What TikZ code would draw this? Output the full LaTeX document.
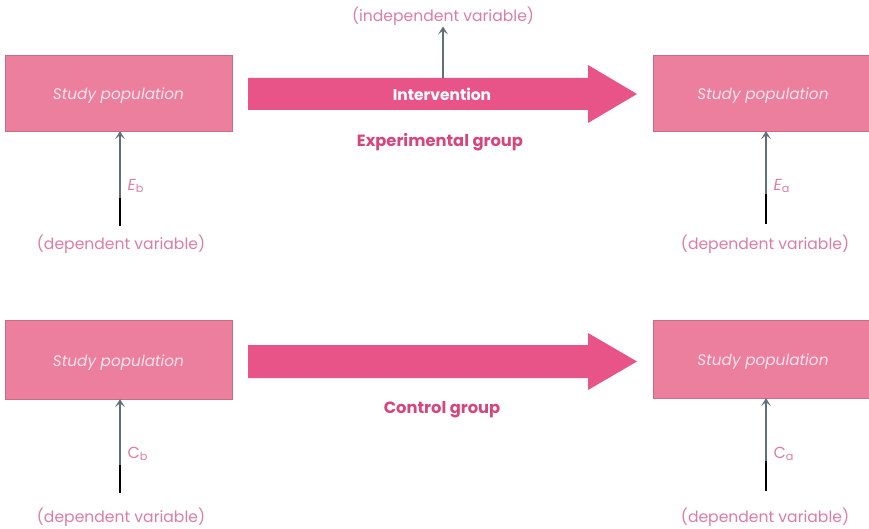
\documentclass[tikz,border=0pt]{standalone}
\usepackage{fontspec}
\setmainfont{Poppins}
\usetikzlibrary{arrows.meta}
\definecolor{boxfill}{RGB}{237,127,158}
\definecolor{arrfill}{RGB}{233,84,136}
\definecolor{boxtxt}{RGB}{252,228,236}
\definecolor{lblpink}{RGB}{220,125,165}
\definecolor{grptxt}{RGB}{214,70,125}
\definecolor{stem}{RGB}{95,112,122}
\tikzset{
  popbox/.style={fill=boxfill, draw=boxfill!85!black, line width=0.4pt, minimum width=227pt, minimum height=76pt, inner sep=0pt, text height=13pt, text depth=0pt, font=\fontsize{15.3}{17}\selectfont\itshape, text=boxtxt},
  bigarrow/.style={fill=arrfill},
  lbl/.style={text=lblpink, font=\fontsize{15.6}{18}\selectfont, inner sep=1pt},
  grp/.style={text=grptxt, font=\fontsize{16.3}{18}\selectfont\bfseries},
  varrow/.style={draw=stem, line width=1.6pt, -{Stealth[length=8pt,width=10pt,inset=4pt]}},
  blackstem/.style={draw=black, line width=1.6pt},
  sub/.style={text=lblpink, font=\fontsize{16}{18}\selectfont, anchor=west}
}
\begin{document}
\begin{tikzpicture}[x=1pt,y=-1pt]
\useasboundingbox (0,0) rectangle (869,529);
% boxes
\node[popbox] (eb) at (118.5,93) {Study population};
\node[popbox, minimum width=220pt] (ea) at (763,93) {Study population};
\node[popbox, minimum height=79pt] (cb) at (118.5,359.5) {Study population};
\node[popbox, minimum width=220pt, minimum height=78pt] (ca) at (763,359) {Study population};
% big arrows
\fill[bigarrow] (248,78) -- (588,78) -- (588,65) -- (637,94) -- (588,123) -- (588,110) -- (248,110) -- cycle;
\fill[bigarrow] (248,345) -- (588,345) -- (588,333) -- (637,361.5) -- (588,390) -- (588,378) -- (248,378) -- cycle;
\node[text=white, font=\fontsize{15.5}{18}\selectfont\bfseries] (intv) at (442,94) {Intervention};
\coordinate (ivfoot) at (443,78);
\node[lbl] (iv) at (443,16) {(independent variable)};
\draw[varrow] (ivfoot) -- (iv.south);
\node[grp] (expg) at (440,142) {Experimental group};
\node[grp] (ctrl) at (442,410) {Control group};
% dependent variable labels
\node[lbl] (deb) at (121,244) {(dependent variable)};
\node[lbl] (dea) at (765,244) {(dependent variable)};
\node[lbl] (dcb) at (121,517) {(dependent variable)};
\node[lbl] (dca) at (765,517) {(dependent variable)};
% vertical arrows
\coordinate (eb0) at (120,226);
\coordinate (ea0) at (766,224);
\coordinate (cb0) at (120,493);
\coordinate (ca0) at (766,491);
\draw[varrow] (eb0) -- (eb.south -| eb0);
\draw[varrow] (ea0) -- (ea.south -| ea0);
\draw[varrow] (cb0) -- (cb.south -| cb0);
\draw[varrow] (ca0) -- (ca.south -| ca0);
\draw[blackstem] (eb0) -- ++(0,-28);
\draw[blackstem] (ea0) -- ++(0,-30);
\draw[blackstem] (cb0) -- ++(0,-28);
\draw[blackstem] (ca0) -- ++(0,-30);
% variable names
\node[sub] (Eb) at (124,186) {\textit{E}\textsubscript{b}};
\node[sub] (Ea) at (770,186) {\textit{E}\textsubscript{a}};
\node[sub] (Cb) at (124,454) {C\textsubscript{b}};
\node[sub] (Ca) at (770,454) {C\textsubscript{a}};
\end{tikzpicture}
\end{document}
